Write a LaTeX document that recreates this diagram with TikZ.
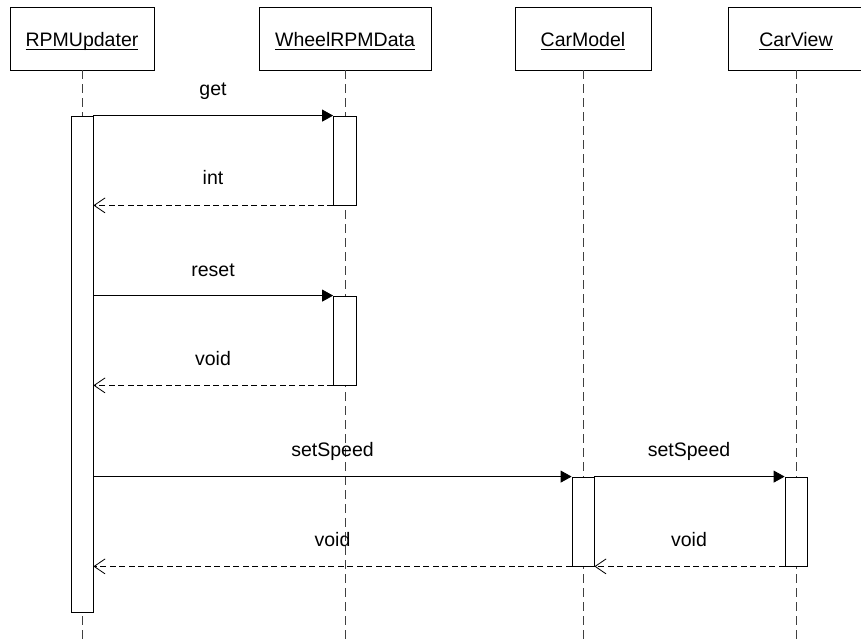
\documentclass[tikz,border=0pt]{standalone}
\usepackage{fontspec}
\setmainfont{Liberation Sans}
\usetikzlibrary{arrows.meta}
\newcommand\ulname[1]{\setbox0\hbox{#1}\rlap{\rule[-3pt]{\wd0}{0.8pt}}\box0}
\begin{document}
\begin{tikzpicture}[x=1pt,y=-1pt,
  every node/.style={font=\fontsize{19.5}{23}\selectfont},
  headbox/.style={draw, line width=0.8pt, minimum height=63pt, inner sep=0pt},
  actbox/.style={draw, fill=white, line width=0.8pt, inner sep=0pt, minimum width=22pt},
  lifeline/.style={line width=0.8pt, draw=black!75, dash pattern=on 9pt off 5pt},
  callmsg/.style={line width=0.8pt, -{Triangle[length=11pt,width=12pt]}},
  retmsg/.style={line width=0.8pt, dash pattern=on 6pt off 3.5pt, -{Straight Barb[length=11pt,width=15pt,line width=0.8pt]}},
  msglabel/.style={anchor=base, inner sep=0pt}]
\useasboundingbox (0,0) rectangle (861,639);
% headers
\node[headbox, minimum width=144pt] (h1) at (82,38.5) {};
\node[headbox, minimum width=172pt] (h2) at (345,38.5) {};
\node[headbox, minimum width=136pt] (h3) at (583,38.5) {};
\node[headbox, minimum width=136pt] (h4) at (796,38.5) {};
\node[msglabel] (t1) at (82,47) {\ulname{RPMUpdater}};
\node[msglabel] (t2) at (345,47) {\ulname{WheelRPMData}};
\node[msglabel] (t3) at (583,47) {\ulname{CarModel}};
\node[msglabel] (t4) at (796,47) {\ulname{CarView}};
% lifeline ends
\coordinate (e1) at (82,639);
\coordinate (e2) at (345,639);
\coordinate (e3) at (583,639);
\coordinate (e4) at (796,639);
\draw[lifeline] (h1.south) -- (e1);
\draw[lifeline] (h2.south) -- (e2);
\draw[lifeline] (h3.south) -- (e3);
\draw[lifeline] (h4.south) -- (e4);
% activations
\node[actbox, minimum height=496pt] (a1) at (82,364) {};
\node[actbox, minimum width=23pt, minimum height=89pt] (w1) at (345,160.5) {};
\node[actbox, minimum width=23pt, minimum height=89pt] (w2) at (345,340.5) {};
\node[actbox, minimum height=89pt] (m1) at (583,521.5) {};
\node[actbox, minimum height=89pt] (v1) at (796,521.5) {};
% messages
\draw[callmsg] (a1.east |- w1.north) -- (w1.north west);
\node[msglabel] (l1) at (213,96) {get};
\draw[retmsg] (w1.south west) -- (a1.east |- w1.south);
\node[msglabel] (l2) at (213,185) {int};
\draw[callmsg] (a1.east |- w2.north) -- (w2.north west);
\node[msglabel] (l3) at (213,276) {reset};
\draw[retmsg] (w2.south west) -- (a1.east |- w2.south);
\node[msglabel] (l4) at (213,365) {void};
\draw[callmsg] (a1.east |- m1.north) -- (m1.north west);
\node[msglabel] (l5) at (332.5,456) {setSpeed};
\draw[callmsg] (m1.north east) -- (v1.north west);
\node[msglabel] (l6) at (689,456) {setSpeed};
\draw[retmsg] (v1.south west) -- (m1.south east);
\node[msglabel] (l7) at (689,546) {void};
\draw[retmsg] (m1.south west) -- (a1.east |- m1.south);
\node[msglabel] (l8) at (332.5,546) {void};
\end{tikzpicture}
\end{document}
